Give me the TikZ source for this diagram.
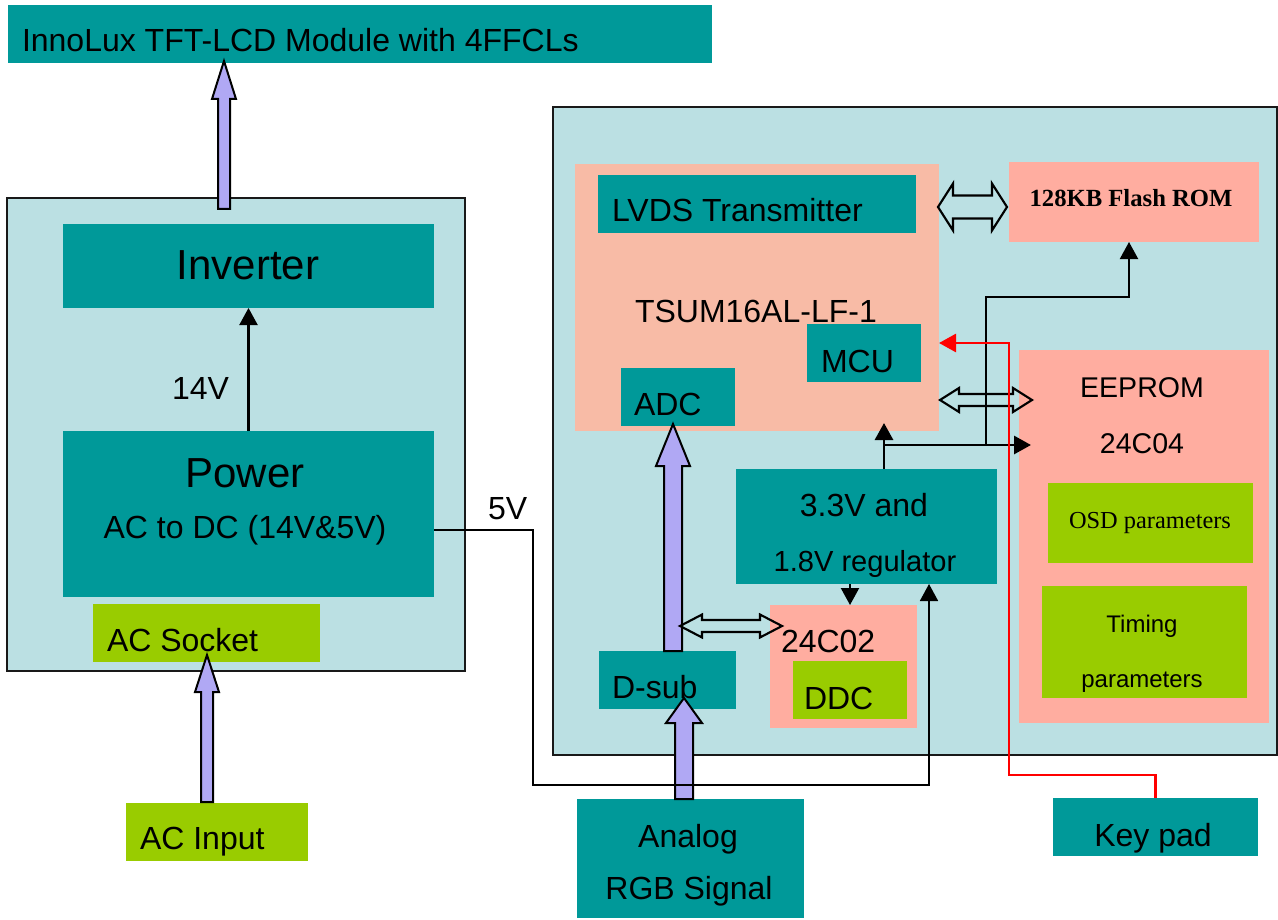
\documentclass[tikz,border=0pt]{standalone}
\usepackage{fontspec}
\setmainfont{Liberation Sans}
\newfontfamily\timesf{Liberation Serif}
\usetikzlibrary{fit,calc,arrows.meta}
\definecolor{tealc}{HTML}{009999}
\definecolor{cyanbg}{HTML}{BBE0E3}
\definecolor{greenc}{HTML}{99CC00}
\definecolor{lavc}{HTML}{B0A8F4}
\definecolor{tsumc}{HTML}{F8BBA6}
\definecolor{pinkc}{HTML}{FFADA0}
\definecolor{redc}{HTML}{FF0000}
\tikzset{
  box/.style={inner sep=0pt, outer sep=0pt},
  tealbox/.style={box, fill=tealc},
  greenbox/.style={box, fill=greenc},
  tsumbox/.style={box, fill=tsumc},
  pinkbox/.style={box, fill=pinkc},
  bigbox/.style={box, fill=cyanbg, draw=black!90, line width=1.5pt},
  txt/.style={inner sep=0pt, outer sep=0pt, font=\fontsize{24}{28}\selectfont},
  bigtxt/.style={txt, font=\fontsize{31.5}{36}\selectfont},
  wire/.style={line width=1.6pt, draw=black},
  thickwire/.style={line width=2.2pt, draw=black},
  fivewire/.style={line width=1.3pt, draw=black},
  redwire/.style={line width=2pt, draw=redc},
  arr/.style={-{Triangle[width=13.5pt,length=12.75pt]}},
  fatarrow/.style={fill=lavc, draw=black, line width=1.5pt, line join=miter},
  hollow/.style={draw=black, line width=1.6pt, line join=miter},
}
\newcommand{\fatup}[5]{\draw[fatarrow] let \p1=(#1), \p2=(#2) in
  (\x2,\y2) -- (\x2+#4,\y2-#5) -- (\x2+#3,\y2-#5) -- (\x2+#3,\y1) -- (\x2-#3,\y1)
  -- (\x2-#3,\y2-#5) -- (\x2-#4,\y2-#5) -- cycle;}
\newcommand{\dblarrow}[5]{\draw[hollow] let \p1=(#1), \p2=(#2) in
  (\x1,\y1) -- (\x1+#5,\y1+#4) -- (\x1+#5,\y1+#3) -- (\x2-#5,\y1+#3) -- (\x2-#5,\y1+#4)
  -- (\x2,\y1) -- (\x2-#5,\y1-#4) -- (\x2-#5,\y1-#3) -- (\x1+#5,\y1-#3) -- (\x1+#5,\y1-#4) -- cycle;}
\begin{document}
\begin{tikzpicture}[x=0.75pt,y=-0.75pt]
\useasboundingbox (0,0) rectangle (1278,920);
\fill[white] (0,0) rectangle (1278,920);
% ---- boxes
\node[tealbox, fit={(8,5) (712,63)}] (lcd) {};
\node[bigbox, fit={(7,198) (465,671)}] (lbox) {};
\node[tealbox, fit={(63,224) (434,308)}] (inv) {};
\node[tealbox, fit={(63,431) (434,597)}] (pwr) {};
\node[greenbox, fit={(93,604) (320,662)}] (sock) {};
\node[greenbox, fit={(126,803) (308,861)}] (acin) {};
\node[bigbox, fit={(553,107) (1277,755)}] (rbox) {};
\node[tsumbox, fit={(575,164) (939,431)}] (tsum) {};
\node[tealbox, fit={(598,175) (916,233)}] (lvds) {};
\node[tealbox, fit={(807,324) (921,382)}] (mcu) {};
\node[tealbox, fit={(621,368) (735,426)}] (adc) {};
\node[pinkbox, fit={(1009,162) (1259,242)}] (flash) {};
\node[pinkbox, fit={(1019,350) (1269,723)}] (eeprom) {};
\node[greenbox, fit={(1048,483) (1253,563)}] (osd) {};
\node[greenbox, fit={(1042,586) (1247,698)}] (timing) {};
\node[tealbox, fit={(736,469) (997,584)}] (reg) {};
\node[pinkbox, fit={(770,605) (917,728)}] (c24) {};
\node[greenbox, fit={(793,661) (907,719)}] (ddc) {};
\node[tealbox, fit={(599,651) (736,709)}] (dsub) {};
\node[tealbox, fit={(577,799) (804,918)}] (analog) {};
\node[tealbox, fit={(1053,798) (1258,856)}] (keypad) {};
% ---- coordinates
\coordinate (fa1) at (224,209); \coordinate (fa2) at (224,61);
\coordinate (fb1) at (207,802); \coordinate (fb2) at (207,655);
\coordinate (fc1) at (684,799); \coordinate (fc2) at (684,698);
\coordinate (fd1) at (673,651); \coordinate (fd2) at (673,424);
\coordinate (da1) at (938,207); \coordinate (da2) at (1007,207);
\coordinate (db1) at (940,400); \coordinate (db2) at (1032,400);
\coordinate (dc1) at (680,626); \coordinate (dc2) at (782,626);
\coordinate (rj) at (884,445);
\coordinate (fj) at (986,445); \coordinate (fk) at (1129,297);
\coordinate (v5a) at (533,530); \coordinate (v5b) at (929,785);
\coordinate (r24) at (850,584);
\coordinate (rk1) at (1009,775); \coordinate (rk2) at (1009,343);
% ---- fat arrows
\fatup{fa1}{fa2}{4.5pt}{9pt}{28.5pt}
\fatup{fb1}{fb2}{4.5pt}{9pt}{27.75pt}
\fatup{fd1}{fd2}{6.75pt}{12.75pt}{31.5pt}
\fatup{fc1}{fc2}{6.75pt}{13.5pt}{18.75pt}
% ---- double arrows
\dblarrow{da1}{da2}{8.6pt}{17.6pt}{11.25pt}
\dblarrow{db1}{db2}{4.5pt}{9pt}{14.25pt}
\dblarrow{dc1}{dc2}{4.5pt}{8.6pt}{16.5pt}
% ---- wires
\draw[wire, arr] (pwr.north) -- (inv.south);
\draw[fivewire, arr] (pwr.east |- v5a) -- (v5a) |- (v5b) -- (v5b |- reg.south);
\draw[thickwire, arr, shorten >=-6pt] (rj |- reg.north) -- (rj |- tsum.south);
\draw[thickwire, arr, shorten >=-9pt] (rj) -- (rj -| eeprom.west);
\draw[wire, arr] (fj) |- (fk) -- (fk |- flash.south);
\draw[wire, arr] (r24) -- (r24 |- c24.north);
\draw[redwire, -{Triangle[width=13.5pt,length=12.75pt]}, redc] (keypad.north) |- (rk1) -- (rk2) -- (rk2 -| tsum.east);
% ---- texts
\node[txt, anchor=base west] (tlcd) at (22,52) {InnoLux TFT-LCD Module with 4FFCLs};
\node[bigtxt, anchor=base] (tinv) at (248,279) {Inverter};
\node[txt, anchor=base west] (t14) at (172,399) {14V};
\node[bigtxt, anchor=base] (tpwr) at (245,487) {Power};
\node[txt, anchor=base] (tacdc) at (245,538) {AC to DC (14V\&5V)};
\node[txt, anchor=base west] (tsock) at (107,651) {AC Socket};
\node[txt, anchor=base west] (tacin) at (140,849) {AC Input};
\node[txt, anchor=base west] (t5v) at (488,519) {5V};
\node[txt, anchor=base west] (tlvds) at (612,222) {LVDS Transmitter};
\node[txt, anchor=base west] (ttsum) at (635,322) {TSUM16AL-LF-1};
\node[txt, anchor=base west] (tmcu) at (821,372) {MCU};
\node[txt, anchor=base west] (tadc) at (634,415) {ADC};
\node[txt, anchor=base, font=\timesf\bfseries\fontsize{18.5}{22}\selectfont] (tflash) at (1131,207) {128KB Flash ROM};
\node[txt, anchor=base, font=\fontsize{21.4}{25}\selectfont] (tee1) at (1142,397) {EEPROM};
\node[txt, anchor=base, font=\fontsize{21.4}{25}\selectfont] (tee2) at (1142,453) {24C04};
\node[txt, anchor=base, font=\timesf\fontsize{18.3}{22}\selectfont] (tosd) at (1150,528) {OSD parameters};
\node[txt, anchor=base, font=\fontsize{18}{22}\selectfont] (ttim1) at (1142,632) {Timing};
\node[txt, anchor=base, font=\fontsize{18}{22}\selectfont] (ttim2) at (1142,687) {parameters};
\node[txt, anchor=base] (treg1) at (864,516) {3.3V and};
\node[txt, anchor=base, font=\fontsize{21.8}{26}\selectfont] (treg2) at (865,571) {1.8V regulator};
\node[txt, anchor=base west] (tc24) at (781,652) {24C02};
\node[txt, anchor=base west] (tddc) at (804,709) {DDC};
\node[txt, anchor=base west] (tdsub) at (612,698) {D-sub};
\node[txt, anchor=base] (tan1) at (688,847) {Analog};
\node[txt, anchor=base] (tan2) at (689,899) {RGB Signal};
\node[txt, anchor=base] (tkey) at (1153,846) {Key pad};
\end{tikzpicture}
\end{document}
